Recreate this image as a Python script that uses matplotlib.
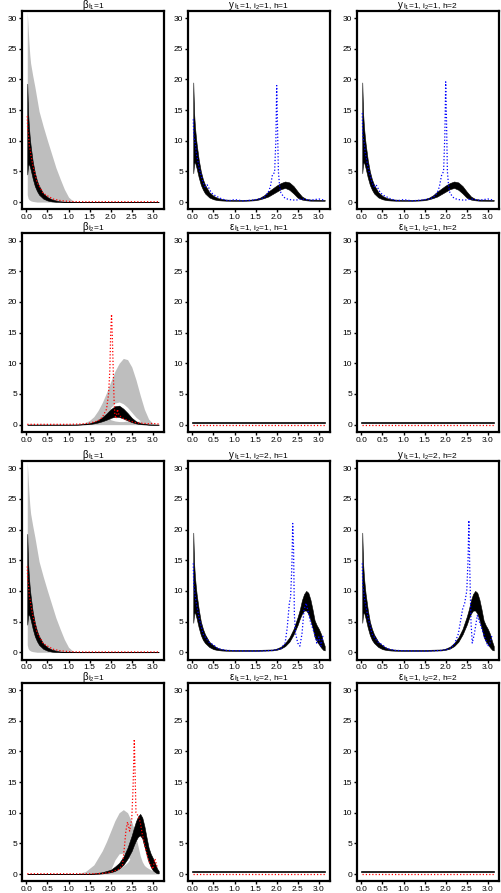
import matplotlib
matplotlib.use("Agg")
from matplotlib import pyplot as plt

plt.rcParams["font.family"] = ["Liberation Sans", "DejaVu Sans"]
plt.rcParams["mathtext.fontset"] = "custom"
plt.rcParams["mathtext.rm"] = "Liberation Sans"
plt.rcParams["mathtext.it"] = "Liberation Sans"
plt.rcParams["mathtext.bf"] = "Liberation Sans:bold"

# ---- beta_{i1=1}: decaying curve near 0 ----
b1_x = [0.02, 0.04, 0.06, 0.08, 0.10, 0.15, 0.20, 0.25, 0.30, 0.40, 0.50, 0.60, 0.70, 0.80, 0.90, 1.00, 1.10, 1.20, 3.14]
b1_grey_lo = [1.2, 0.6, 0.4, 0.3, 0.2, 0.1, 0.05, 0, 0, 0, 0, 0, 0, 0, 0, 0, 0, 0, 0]
b1_grey_hi = [31, 28.5, 26, 24, 22.6, 20.6, 18.8, 16.8, 14.8, 12.3, 10, 7.8, 5.6, 3.8, 2.1, 0.8, 0.2, 0, 0]
b1_black_lo = [4.5, 6.0, 6.2, 5.8, 5.3, 3.8, 2.6, 1.8, 1.2, 0.55, 0.25, 0.1, 0.04, 0.02, 0, 0, 0, 0, 0]
b1_black_hi = [19.3, 14.5, 12.2, 10.5, 9.2, 6.6, 4.8, 3.5, 2.6, 1.4, 0.8, 0.45, 0.25, 0.12, 0.06, 0.03, 0.01, 0, 0]
r1_x = [0.02, 0.03, 0.05, 0.07, 0.09, 0.11, 0.13, 0.16, 0.20, 0.24, 0.28, 0.33, 0.38, 0.45, 0.55, 0.65, 0.80, 1.00, 1.30, 1.70, 2.20, 2.70, 3.14]
r1_y = [14, 11.5, 11, 9, 8.5, 7.5, 6.8, 5.7, 4.6, 3.5, 2.8, 2.3, 1.6, 1.2, 0.8, 0.45, 0.25, 0.1, 0.05, 0.05, 0.05, 0.05, 0.05]

# ---- y_{i1=1, i2=1}: decay + bump near 2.2 ----
y1_x = [0.02, 0.04, 0.06, 0.08, 0.10, 0.15, 0.20, 0.25, 0.30, 0.40, 0.50, 0.60, 0.70, 0.80, 1.00, 1.20, 1.40, 1.50, 1.60,
        1.70, 1.80, 1.90, 2.00, 2.10, 2.20, 2.30, 2.40, 2.50, 2.60, 2.70, 2.80, 3.14]
y1_lo = [4.7, 6.3, 6.5, 6.0, 5.5, 4.0, 2.8, 2.0, 1.4, 0.75, 0.45, 0.3, 0.25, 0.22, 0.2, 0.2, 0.25, 0.3, 0.45,
         0.65, 0.9, 1.3, 1.7, 2.1, 2.3, 2.0, 1.4, 0.7, 0.4, 0.28, 0.22, 0.2]
y1_hi = [19.5, 14.5, 12.3, 10.8, 9.5, 6.9, 5.0, 3.7, 2.8, 1.6, 1.0, 0.65, 0.48, 0.4, 0.35, 0.35, 0.4, 0.5, 0.7,
         1.1, 1.7, 2.2, 2.7, 3.1, 3.35, 3.2, 2.6, 1.7, 0.9, 0.5, 0.4, 0.35]
bl1_x = [0.02, 0.03, 0.05, 0.07, 0.09, 0.12, 0.16, 0.20, 0.25, 0.30, 0.35, 0.45, 0.55, 0.70, 0.85, 1.00, 1.20, 1.40, 1.60,
         1.70, 1.80, 1.85, 1.90, 1.95, 1.98, 2.00, 2.02, 2.04, 2.07, 2.10, 2.15, 2.20, 2.30, 2.45, 2.60, 2.80, 3.00, 3.14]
bl1_y = [13.5, 11, 10, 9.5, 8, 7, 5.5, 4.5, 3.2, 2.5, 2.8, 1.5, 1.0, 0.5, 0.2, 0.4, 0.2, 0.3, 0.5,
         0.7, 1.6, 2.5, 4.5, 4.8, 10, 19, 12, 5, 2.5, 1.5, 1, 0.6, 0.4, 0.3, 0.5, 0.3, 0.5, 0.3]
bl2_y = [14.5, 11, 10, 9.5, 8, 7, 5.5, 4.5, 3.2, 2.5, 2.8, 1.5, 1.0, 0.5, 0.2, 0.4, 0.2, 0.3, 0.5,
         0.7, 1.5, 2.5, 4.3, 5.0, 11, 19.6, 13, 5, 2.5, 1.5, 1, 0.6, 0.4, 0.3, 0.5, 0.3, 0.5, 0.3]

# ---- beta_{i2=1} (first pair of rows): bump near 2.3 ----
b2_x = [0.02, 1.0, 1.2, 1.3, 1.4, 1.5, 1.6, 1.7, 1.8, 1.9, 2.0, 2.1, 2.2, 2.3, 2.4, 2.5, 2.6, 2.7, 2.8, 2.9, 3.0, 3.14]
b2_grey_hi = [0, 0, 0.05, 0.15, 0.35, 0.7, 1.3, 2.3, 3.6, 5.2, 7.0, 8.7, 10.0, 10.8, 10.6, 9.4, 7.3, 4.8, 2.5, 0.9, 0.2, 0]
b2_black_lo = [0, 0, 0, 0.02, 0.05, 0.1, 0.2, 0.35, 0.55, 0.8, 1.1, 1.3, 1.25, 1.0, 0.7, 0.4, 0.2, 0.08, 0.03, 0, 0, 0]
b2_black_hi = [0, 0, 0.02, 0.05, 0.12, 0.25, 0.45, 0.75, 1.2, 1.8, 2.5, 3.0, 3.1, 2.6, 1.9, 1.1, 0.55, 0.25, 0.1, 0.03, 0, 0]
h2_x = [1.95, 2.0, 2.1, 2.2, 2.3, 2.4, 2.5, 2.6, 2.7]
h2_lo = [1.5, 0.8, 0.6, 0.5, 0.5, 0.6, 0.6, 0.5, 0.6]
h2_hi = [1.6, 2.8, 3.5, 3.7, 3.4, 2.8, 2.0, 1.2, 0.65]
r2_x = [0.02, 0.5, 1.0, 1.3, 1.5, 1.7, 1.8, 1.9, 1.95, 1.98, 2.0, 2.02, 2.04, 2.06, 2.08, 2.1, 2.13, 2.16, 2.2,
        2.3, 2.4, 2.5, 2.6, 2.7, 2.8, 2.9, 3.0, 3.14]
r2_y = [0.05, 0.05, 0.05, 0.1, 0.25, 0.6, 1.2, 2.5, 5, 9, 15, 18, 14, 9, 4, 1.5, 1.0, 2.5, 1.5,
        1.0, 0.7, 0.5, 0.3, 0.25, 0.2, 0.15, 0.2, 0.1]

# ---- epsilon panels ----
eps_x = [0.02, 3.14]
eps_black = [0.3, 0.3]
eps_red = [0.0, 0.0]

# ---- y_{i1=1, i2=2}: decay + peak near 2.7 ----
y2_x = [0.02, 0.04, 0.06, 0.08, 0.10, 0.15, 0.20, 0.25, 0.30, 0.40, 0.50, 0.60, 0.70, 0.80, 1.00, 1.50, 1.90, 2.00,
        2.10, 2.20, 2.30, 2.40, 2.50, 2.55, 2.60, 2.65, 2.70, 2.75, 2.80, 2.85, 2.90, 2.95, 3.00, 3.05, 3.10, 3.14]
y2_lo = [4.8, 6.3, 6.5, 6.0, 5.5, 4.0, 2.8, 2.0, 1.5, 0.85, 0.5, 0.35, 0.28, 0.25, 0.22, 0.22, 0.3, 0.4,
         0.6, 1.0, 1.7, 2.9, 4.5, 5.5, 6.3, 6.8, 6.8, 6.3, 5.3, 4.0, 2.5, 1.8, 1.3, 0.8, 0.4, 0.3]
y2_hi = [19.5, 14.5, 12.3, 10.8, 9.5, 7.0, 5.0, 3.8, 2.9, 1.7, 1.1, 0.7, 0.5, 0.42, 0.38, 0.38, 0.45, 0.6,
         0.9, 1.5, 2.4, 3.8, 5.8, 7.0, 8.5, 9.5, 10.0, 9.7, 8.6, 7.0, 5.2, 4.4, 3.8, 3.0, 1.8, 1.0]
bl3_x = [0.02, 0.03, 0.05, 0.07, 0.09, 0.12, 0.16, 0.20, 0.25, 0.30, 0.40, 0.50, 0.60, 0.80, 1.00, 1.30, 1.60, 1.90,
         2.00, 2.10, 2.20, 2.25, 2.30, 2.33, 2.36, 2.38, 2.40, 2.42, 2.45, 2.50, 2.55, 2.60, 2.65, 2.70, 2.80, 2.90,
         2.95, 3.00, 3.05, 3.10]
bl3_y = [14.5, 11, 10, 9, 8, 7, 5.5, 4.5, 3, 2.5, 1.6, 1.2, 0.6, 0.3, 0.25, 0.2, 0.2, 0.3,
         0.4, 0.6, 1.5, 4, 8, 9, 14, 21, 17, 6, 3, 1.5, 1.0, 3, 7, 8, 5, 3,
         1.5, 2.5, 1, 2.8]
bl4_x = [0.02, 0.03, 0.05, 0.07, 0.09, 0.12, 0.16, 0.20, 0.25, 0.30, 0.40, 0.50, 0.60, 0.80, 1.00, 1.30, 1.60, 1.90,
         2.00, 2.10, 2.20, 2.30, 2.40, 2.45, 2.50, 2.53, 2.55, 2.57, 2.60, 2.63, 2.68, 2.75, 2.85, 2.95, 3.00, 3.05,
         3.10]
bl4_y = [14.5, 11, 10, 9, 8, 7, 5.5, 4.5, 3, 2.5, 1.6, 1.2, 0.6, 0.3, 0.25, 0.2, 0.2, 0.3,
         0.4, 0.6, 1.2, 3, 7, 8, 10, 15, 21.5, 14, 5, 1.5, 3, 6, 4, 2, 1, 1.5,
         2.8]

# ---- beta_{i2=1} (second pair of rows): grey bump at 2.3, black peak at 2.7 ----
b4_x = [0.02, 1.0, 1.2, 1.4, 1.6, 1.8, 1.9, 2.0, 2.1, 2.2, 2.3, 2.4, 2.5, 2.55, 2.6, 2.65, 2.7, 2.75, 2.8, 2.85,
        2.9, 2.95, 3.0, 3.05, 3.1, 3.14]
b4_grey_hi = [0, 0, 0.05, 0.4, 1.5, 3.8, 5.3, 7.0, 8.7, 10.0, 10.5, 10.0, 8.5, 7.4, 6.0, 4.5, 3.0, 2.0, 1.4, 1.1,
              0.9, 0.7, 0.5, 0.2, 0, 0]
b4_black_lo = [0, 0, 0, 0, 0, 0.1, 0.2, 0.3, 0.5, 0.9, 1.5, 2.5, 3.8, 4.7, 5.5, 6.1, 6.3, 5.8, 4.5, 3.2,
               2.0, 1.2, 0.6, 0.3, 0.1, 0.1]
b4_black_hi = [0, 0, 0, 0, 0.1, 0.3, 0.5, 0.7, 1.2, 1.8, 2.8, 4.3, 6.3, 7.5, 8.6, 9.4, 9.8, 9.2, 7.8, 6.0,
               4.3, 3.3, 2.6, 1.8, 0.9, 0.5]
h4_x = [2.0, 2.1, 2.2, 2.3, 2.4, 2.45]
h4_lo = [0.65, 0.8, 1.0, 1.3, 1.9, 2.4]
h4_hi = [0.7, 2.3, 3.3, 3.4, 2.9, 2.5]
r4_x = [0.02, 1.0, 1.5, 1.8, 2.0, 2.2, 2.28, 2.32, 2.36, 2.40, 2.45, 2.50, 2.53, 2.56, 2.58, 2.60, 2.65, 2.70,
        2.75, 2.80, 2.85, 2.90, 2.95, 3.00, 3.05, 3.10]
r4_y = [0.05, 0.05, 0.05, 0.1, 0.3, 0.8, 1.5, 4, 7, 8.5, 7, 9, 14, 22, 16, 10, 9.5, 8.5,
        6.5, 5, 3.5, 2.2, 1.5, 0.8, 2.5, 1.2]

# titles: main symbol + subscript text (nested subscripts as mathtext)
sym_beta = "β"
sym_y = "y"
sym_eps = "ε"
sub_b1 = r"i$_1$=1"
sub_b2 = r"i$_2$=1"
sub_11 = [r"i$_1$=1, i$_2$=1, h=1", r"i$_1$=1, i$_2$=1, h=2"]
sub_12 = [r"i$_1$=1, i$_2$=2, h=1", r"i$_1$=1, i$_2$=2, h=2"]

# panel positions (pixels of the 502x893 figure)
W, H = 502, 893
col_left = [22, 188, 357]
row_top = [10.7, 233.3, 460.9, 682.7]
panel_w = 142
panel_h = 198.7

GREY = "#bebebe"
DOT = (0, (1, 1.6))


def draw_panel(ax, grey=None, hole=None, band=None, line=None, dotted=None, dot_colour="red"):
    """draws one panel: grey band, white gap, black band, thin black line, dotted curve"""
    if grey is not None:
        ax.fill_between(grey[0], grey[1], grey[2], color=GREY, lw=0)
    if hole is not None:
        ax.fill_between(hole[0], hole[1], hole[2], color="white", lw=0)
    if band is not None:
        ax.fill_between(band[0], band[1], band[2], color="black", lw=0.4, edgecolor="black")
    if line is not None:
        ax.plot(line[0], line[1], color="black", lw=1.2)
    if dotted is not None:
        ax.plot(dotted[0], dotted[1], color=dot_colour, lw=0.9, linestyle=DOT)

    ax.set_xlim(-0.105, 3.265)   # R style: data range + 4%
    ax.set_ylim(-1.2, 31.2)
    ax.set_xticks([0, 0.5, 1.0, 1.5, 2.0, 2.5, 3.0])
    ax.set_xticklabels(["0.0", "0.5", "1.0", "1.5", "2.0", "2.5", "3.0"])
    ax.set_yticks([0, 5, 10, 15, 20, 25, 30])
    ax.tick_params(direction="out", length=2.5, width=1, labelsize=6, pad=1)
    for s in ax.spines.values():
        s.set_linewidth(1.6)


def put_title(fig, renderer, r, c, sym, sub):
    """R plotmath like title: symbol, subscript at 80% and a bit lower, centred over the panel"""
    t1 = fig.text(0, 0, sym, fontsize=7, va="baseline", ha="left")
    t2 = fig.text(0, 0, sub, fontsize=6, va="baseline", ha="left")
    w1 = t1.get_window_extent(renderer).width
    w2 = t2.get_window_extent(renderer).width
    centre = col_left[c] + panel_w / 2
    x0 = centre - (w1 + w2) / 2
    base = row_top[r] - 3.2
    t1.set_position((x0 / W, 1 - base / H))
    t2.set_position(((x0 + w1 + 0.5) / W, 1 - (base + 1.0) / H))


fig = plt.figure(figsize=(5.02, 8.93), dpi=100)
axes = []
for r in range(4):
    row = []
    for c in range(3):
        ax = fig.add_axes([col_left[c] / W, 1 - (row_top[r] + panel_h) / H, panel_w / W, panel_h / H])
        row.append(ax)
    axes.append(row)

# row 1
draw_panel(axes[0][0], grey=(b1_x, b1_grey_lo, b1_grey_hi), band=(b1_x, b1_black_lo, b1_black_hi),
           dotted=(r1_x, r1_y))
draw_panel(axes[0][1], band=(y1_x, y1_lo, y1_hi), dotted=(bl1_x, bl1_y), dot_colour="blue")
draw_panel(axes[0][2], band=(y1_x, y1_lo, y1_hi), dotted=(bl1_x, bl2_y), dot_colour="blue")

# row 2
b2_zero = [0] * len(b2_x)
draw_panel(axes[1][0], grey=(b2_x, b2_zero, b2_grey_hi), hole=(h2_x, h2_lo, h2_hi),
           band=(b2_x, b2_black_lo, b2_black_hi), dotted=(r2_x, r2_y))
draw_panel(axes[1][1], line=(eps_x, eps_black), dotted=(eps_x, eps_red))
draw_panel(axes[1][2], line=(eps_x, eps_black), dotted=(eps_x, eps_red))

# row 3
draw_panel(axes[2][0], grey=(b1_x, b1_grey_lo, b1_grey_hi), band=(b1_x, b1_black_lo, b1_black_hi),
           dotted=(r1_x, r1_y))
draw_panel(axes[2][1], band=(y2_x, y2_lo, y2_hi), dotted=(bl3_x, bl3_y), dot_colour="blue")
draw_panel(axes[2][2], band=(y2_x, y2_lo, y2_hi), dotted=(bl4_x, bl4_y), dot_colour="blue")

# row 4
b4_zero = [0] * len(b4_x)
draw_panel(axes[3][0], grey=(b4_x, b4_zero, b4_grey_hi), hole=(h4_x, h4_lo, h4_hi),
           band=(b4_x, b4_black_lo, b4_black_hi), dotted=(r4_x, r4_y))
draw_panel(axes[3][1], line=(eps_x, eps_black), dotted=(eps_x, eps_red))
draw_panel(axes[3][2], line=(eps_x, eps_black), dotted=(eps_x, eps_red))

renderer = fig.canvas.get_renderer()
titles = [
    [(sym_beta, sub_b1), (sym_y, sub_11[0]), (sym_y, sub_11[1])],
    [(sym_beta, sub_b2), (sym_eps, sub_11[0]), (sym_eps, sub_11[1])],
    [(sym_beta, sub_b1), (sym_y, sub_12[0]), (sym_y, sub_12[1])],
    [(sym_beta, sub_b2), (sym_eps, sub_12[0]), (sym_eps, sub_12[1])],
]
for r in range(4):
    for c in range(3):
        put_title(fig, renderer, r, c, titles[r][c][0], titles[r][c][1])

fig.savefig("out.png", dpi=100)
